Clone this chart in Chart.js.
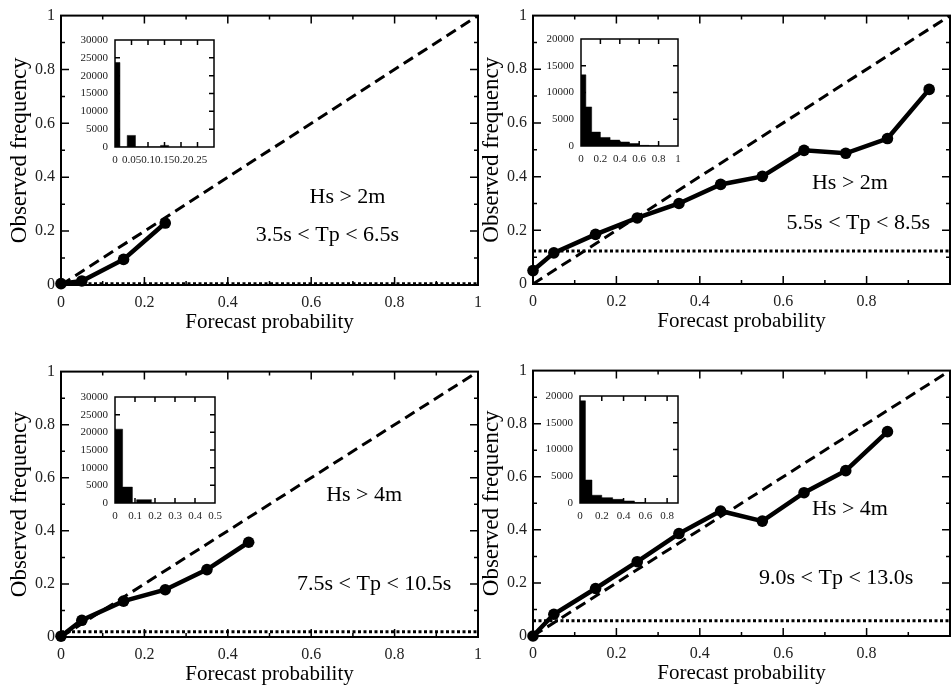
<!DOCTYPE html>
<html>
<head>
<meta charset="utf-8">
<script src="https://cdn.jsdelivr.net/npm/chart.js@4.4.1/dist/chart.umd.min.js"></script>
<style>
  html, body { margin: 0; padding: 0; background: #fff; overflow: hidden; width: 951px; height: 687px; }
  canvas { position: absolute; }
</style>
</head>
<body>
<canvas id="relA"></canvas>
<canvas id="relB"></canvas>
<canvas id="relC"></canvas>
<canvas id="relD"></canvas>
<canvas id="histA"></canvas>
<canvas id="histB"></canvas>
<canvas id="histC"></canvas>
<canvas id="histD"></canvas>
<script>
// forecast probability bins (centres)
var probs = [0, 0.05, 0.15, 0.25, 0.35, 0.45, 0.55, 0.65, 0.75, 0.85, 0.95];

// observed frequency per bin
var obsA = [0.005, 0.015, 0.095, 0.23];
var obsB = [0.05, 0.116, 0.185, 0.246, 0.30, 0.371, 0.401, 0.498, 0.487, 0.542, 0.725];
var obsC = [0.003, 0.063, 0.135, 0.178, 0.254, 0.357];
var obsD = [0.0, 0.082, 0.179, 0.28, 0.386, 0.471, 0.433, 0.54, 0.623, 0.77];

// climatology (dotted line)
var climA = 0.005;
var climB = 0.123;
var climC = 0.02;
var climD = 0.057;

// inset histograms: bar start, bar end, count
var histLoA = [0, 0.037, 0.138];
var histHiA = [0.015, 0.062, 0.163];
var histCountA = [23700, 3250, 450];

var histLoB = [0, 0.05, 0.11, 0.2, 0.3, 0.4, 0.5, 0.6, 0.7];
var histHiB = [0.05, 0.11, 0.2, 0.3, 0.4, 0.5, 0.6, 0.7, 0.8];
var histCountB = [13300, 7300, 2600, 1600, 1100, 750, 450, 120, 50];

var histLoC = [0, 0.038, 0.108];
var histHiC = [0.038, 0.087, 0.183];
var histCountC = [20900, 4500, 940];

var histLoD = [0, 0.05, 0.11, 0.2, 0.3, 0.4, 0.5];
var histHiD = [0.05, 0.11, 0.2, 0.3, 0.4, 0.5, 0.6];
var histCountD = [19100, 4300, 1450, 1000, 680, 380, 100];

var serif = 'Liberation Serif';
Chart.defaults.color = '#000';
Chart.defaults.font.family = serif;

// frame with inward ticks on all four sides
var boxTicks = {
  id: 'boxTicks',
  afterDatasetsDraw: function (chart, args, o) {
    var ctx = chart.ctx, a = chart.chartArea, x = chart.scales.x, y = chart.scales.y;
    ctx.save();
    ctx.strokeStyle = '#000';
    ctx.lineWidth = o.lw;
    ctx.strokeRect(a.left, a.top, a.right - a.left, a.bottom - a.top);
    ctx.lineWidth = o.tw;
    ctx.beginPath();
    var n, v, len, p, i;
    n = Math.round((x.max - x.min) / o.xMinor);
    for (i = 1; i < n; i++) {
      v = x.min + i * o.xMinor;
      len = Math.abs(v / o.xMajor - Math.round(v / o.xMajor)) < 1e-6 ? o.major : o.minor;
      p = x.getPixelForValue(v);
      ctx.moveTo(p, a.bottom); ctx.lineTo(p, a.bottom - len);
      ctx.moveTo(p, a.top); ctx.lineTo(p, a.top + len);
    }
    n = Math.round((y.max - y.min) / o.yMinor);
    for (i = 1; i < n; i++) {
      v = y.min + i * o.yMinor;
      len = Math.abs(v / o.yMajor - Math.round(v / o.yMajor)) < 1e-6 ? o.major : o.minor;
      p = y.getPixelForValue(v);
      ctx.moveTo(a.left, p); ctx.lineTo(a.left + len, p);
      ctx.moveTo(a.right, p); ctx.lineTo(a.right - len, p);
    }
    ctx.stroke();
    ctx.restore();
  }
};

// text labels inside the plot, placed in data coordinates
var notes = {
  id: 'notes',
  afterDatasetsDraw: function (chart, args, o) {
    if (!o.items) return;
    var ctx = chart.ctx;
    ctx.save();
    ctx.fillStyle = '#000';
    ctx.font = '22px "' + serif + '"';
    ctx.textAlign = 'center';
    ctx.textBaseline = 'middle';
    o.items.forEach(function (t) {
      ctx.fillText(t.text, chart.scales.x.getPixelForValue(t.x), chart.scales.y.getPixelForValue(t.y));
    });
    ctx.restore();
  }
};

var whiteArea = {
  id: 'whiteArea',
  beforeDatasetsDraw: function (chart) {
    var a = chart.chartArea;
    chart.ctx.save();
    chart.ctx.fillStyle = '#fff';
    chart.ctx.fillRect(a.left, a.top, a.right - a.left, a.bottom - a.top);
    chart.ctx.restore();
  }
};

function place(cv, left, top, w, h) {
  cv.width = w; cv.height = h;
  cv.style.width = w + 'px'; cv.style.height = h + 'px';
  cv.style.left = left + 'px'; cv.style.top = top + 'px';
}

function relPanel(id, box, obs, clim, items, showOne) {
  var cv = document.getElementById(id);
  var yw = 61, xh = 50, pt = 12, pr = 11;
  place(cv, box.l - yw, box.t - pt, yw + (box.r - box.l) + pr, pt + (box.b - box.t) + xh);
  var rel = obs.map(function (o, i) { return { x: probs[i], y: o }; });

  new Chart(cv, {
    type: 'scatter',
    data: {
      datasets: [{
        data: rel,
        showLine: true,
        borderColor: '#000',
        borderWidth: 4.5,
        pointRadius: 5.8,
        pointBackgroundColor: '#000',
        pointBorderWidth: 0,
        clip: false
      },
      {
        data: [{ x: 0, y: 0 }, { x: 1, y: 1 }],
        showLine: true,
        borderColor: '#000',
        borderWidth: 3,
        borderDash: [11, 6],
        pointRadius: 0
      },
      {
        data: [{ x: 0, y: clim }, { x: 1, y: clim }],
        showLine: true,
        borderColor: '#000',
        borderWidth: 3,
        borderDash: [3, 2.5],
        pointRadius: 0
      }]
    },
    options: {
      responsive: false,
      animation: false,
      layout: { padding: { left: 0, top: pt, right: pr, bottom: 0 } },
      plugins: {
        legend: { display: false },
        tooltip: { enabled: false },
        boxTicks: { lw: 2, tw: 1.5, major: 8, minor: 4, xMajor: 0.2, xMinor: 0.1, yMajor: 0.2, yMinor: 0.1 },
        notes: { items: items }
      },
      scales: {
        x: {
          type: 'linear', min: 0, max: 1,
          grid: { display: false, drawTicks: false },
          border: { display: false },
          ticks: {
            stepSize: 0.2, padding: 8, color: '#222', includeBounds: false,
            font: { size: 16 },
            callback: function (v) {
              if (!showOne && v > 0.99) return '';
              return String(Math.round(v * 10) / 10);
            }
          },
          title: { display: true, text: 'Forecast probability', font: { size: 21 }, padding: { top: 0, bottom: 0 } },
          afterFit: function (s) { s.height = xh; }
        },
        y: {
          type: 'linear', min: 0, max: 1,
          grid: { display: false, drawTicks: false },
          border: { display: false },
          ticks: {
            stepSize: 0.2, padding: 6, color: '#222',
            font: { size: 16 },
            callback: function (v) { return String(Math.round(v * 10) / 10); }
          },
          title: { display: true, text: 'Observed frequency', font: { size: 23 }, padding: { top: 6, bottom: 0 } },
          afterFit: function (s) { s.width = yw; }
        }
      }
    },
    plugins: [boxTicks, notes]
  });
}

function histPanel(id, box, lo, hi, counts, xMax, xStep, xLast, yMax) {
  var cv = document.getElementById(id);
  var yw = 46, xh = 26, pt = 14, pr = 14;
  place(cv, box.l - yw, box.t - pt, yw + (box.r - box.l) + pr, pt + (box.b - box.t) + xh);
  var steps = [];
  lo.forEach(function (s, i) {
    steps.push({ x: s, y: counts[i] });
    steps.push({ x: hi[i], y: 0 });
  });

  new Chart(cv, {
    type: 'scatter',
    data: {
      datasets: [{
        data: steps,
        showLine: true,
        stepped: 'before',
        fill: 'origin',
        backgroundColor: '#000',
        borderColor: '#000',
        borderWidth: 0.5,
        pointRadius: 0
      }]
    },
    options: {
      responsive: false,
      animation: false,
      layout: { padding: { left: 0, top: pt, right: pr, bottom: 0 } },
      plugins: {
        legend: { display: false },
        tooltip: { enabled: false },
        boxTicks: { lw: 1.5, tw: 1.5, major: 5, minor: 5, xMajor: xStep, xMinor: xStep, yMajor: 5000, yMinor: 5000 }
      },
      scales: {
        x: {
          type: 'linear', min: 0, max: xMax,
          grid: { display: false, drawTicks: false },
          border: { display: false },
          ticks: {
            stepSize: xStep, padding: 7, color: '#222', autoSkip: false, maxRotation: 0, includeBounds: false,
            font: { size: 11 },
            callback: function (v) {
              if (v > xLast + 1e-6) return '';
              return String(Math.round(v * 100) / 100);
            }
          },
          afterFit: function (s) { s.height = xh; }
        },
        y: {
          type: 'linear', min: 0, max: yMax,
          grid: { display: false, drawTicks: false },
          border: { display: false },
          ticks: {
            stepSize: 5000, padding: 7, color: '#222',
            font: { size: 11 },
            callback: function (v) { return String(v); }
          },
          afterFit: function (s) { s.width = yw; }
        }
      }
    },
    plugins: [whiteArea, boxTicks]
  });
}

relPanel('relA', { l: 61, r: 479, t: 12, b: 285 }, obsA, climA,
  [{ x: 0.687, y: 0.326, text: 'Hs > 2m' }, { x: 0.639, y: 0.183, text: '3.5s < Tp < 6.5s' }], true);
relPanel('relB', { l: 533, r: 950, t: 12, b: 284 }, obsB, climB,
  [{ x: 0.76, y: 0.375, text: 'Hs > 2m' }, { x: 0.78, y: 0.228, text: '5.5s < Tp < 8.5s' }], false);
relPanel('relC', { l: 61, r: 479, t: 368, b: 637 }, obsC, climC,
  [{ x: 0.727, y: 0.535, text: 'Hs > 4m' }, { x: 0.751, y: 0.2, text: '7.5s < Tp < 10.5s' }], true);
relPanel('relD', { l: 533, r: 950, t: 367, b: 636 }, obsD, climD,
  [{ x: 0.76, y: 0.476, text: 'Hs > 4m' }, { x: 0.727, y: 0.219, text: '9.0s < Tp < 13.0s' }], false);

histPanel('histA', { l: 115, r: 214, t: 40, b: 147 }, histLoA, histHiA, histCountA, 0.3, 0.05, 0.25, 30000);
histPanel('histB', { l: 581, r: 678, t: 39, b: 146 }, histLoB, histHiB, histCountB, 1, 0.2, 1, 20000);
histPanel('histC', { l: 115, r: 215, t: 397, b: 503 }, histLoC, histHiC, histCountC, 0.5, 0.1, 0.5, 30000);
histPanel('histD', { l: 580, r: 678, t: 396, b: 503 }, histLoD, histHiD, histCountD, 0.9, 0.2, 0.8, 20000);
</script>
</body>
</html>
